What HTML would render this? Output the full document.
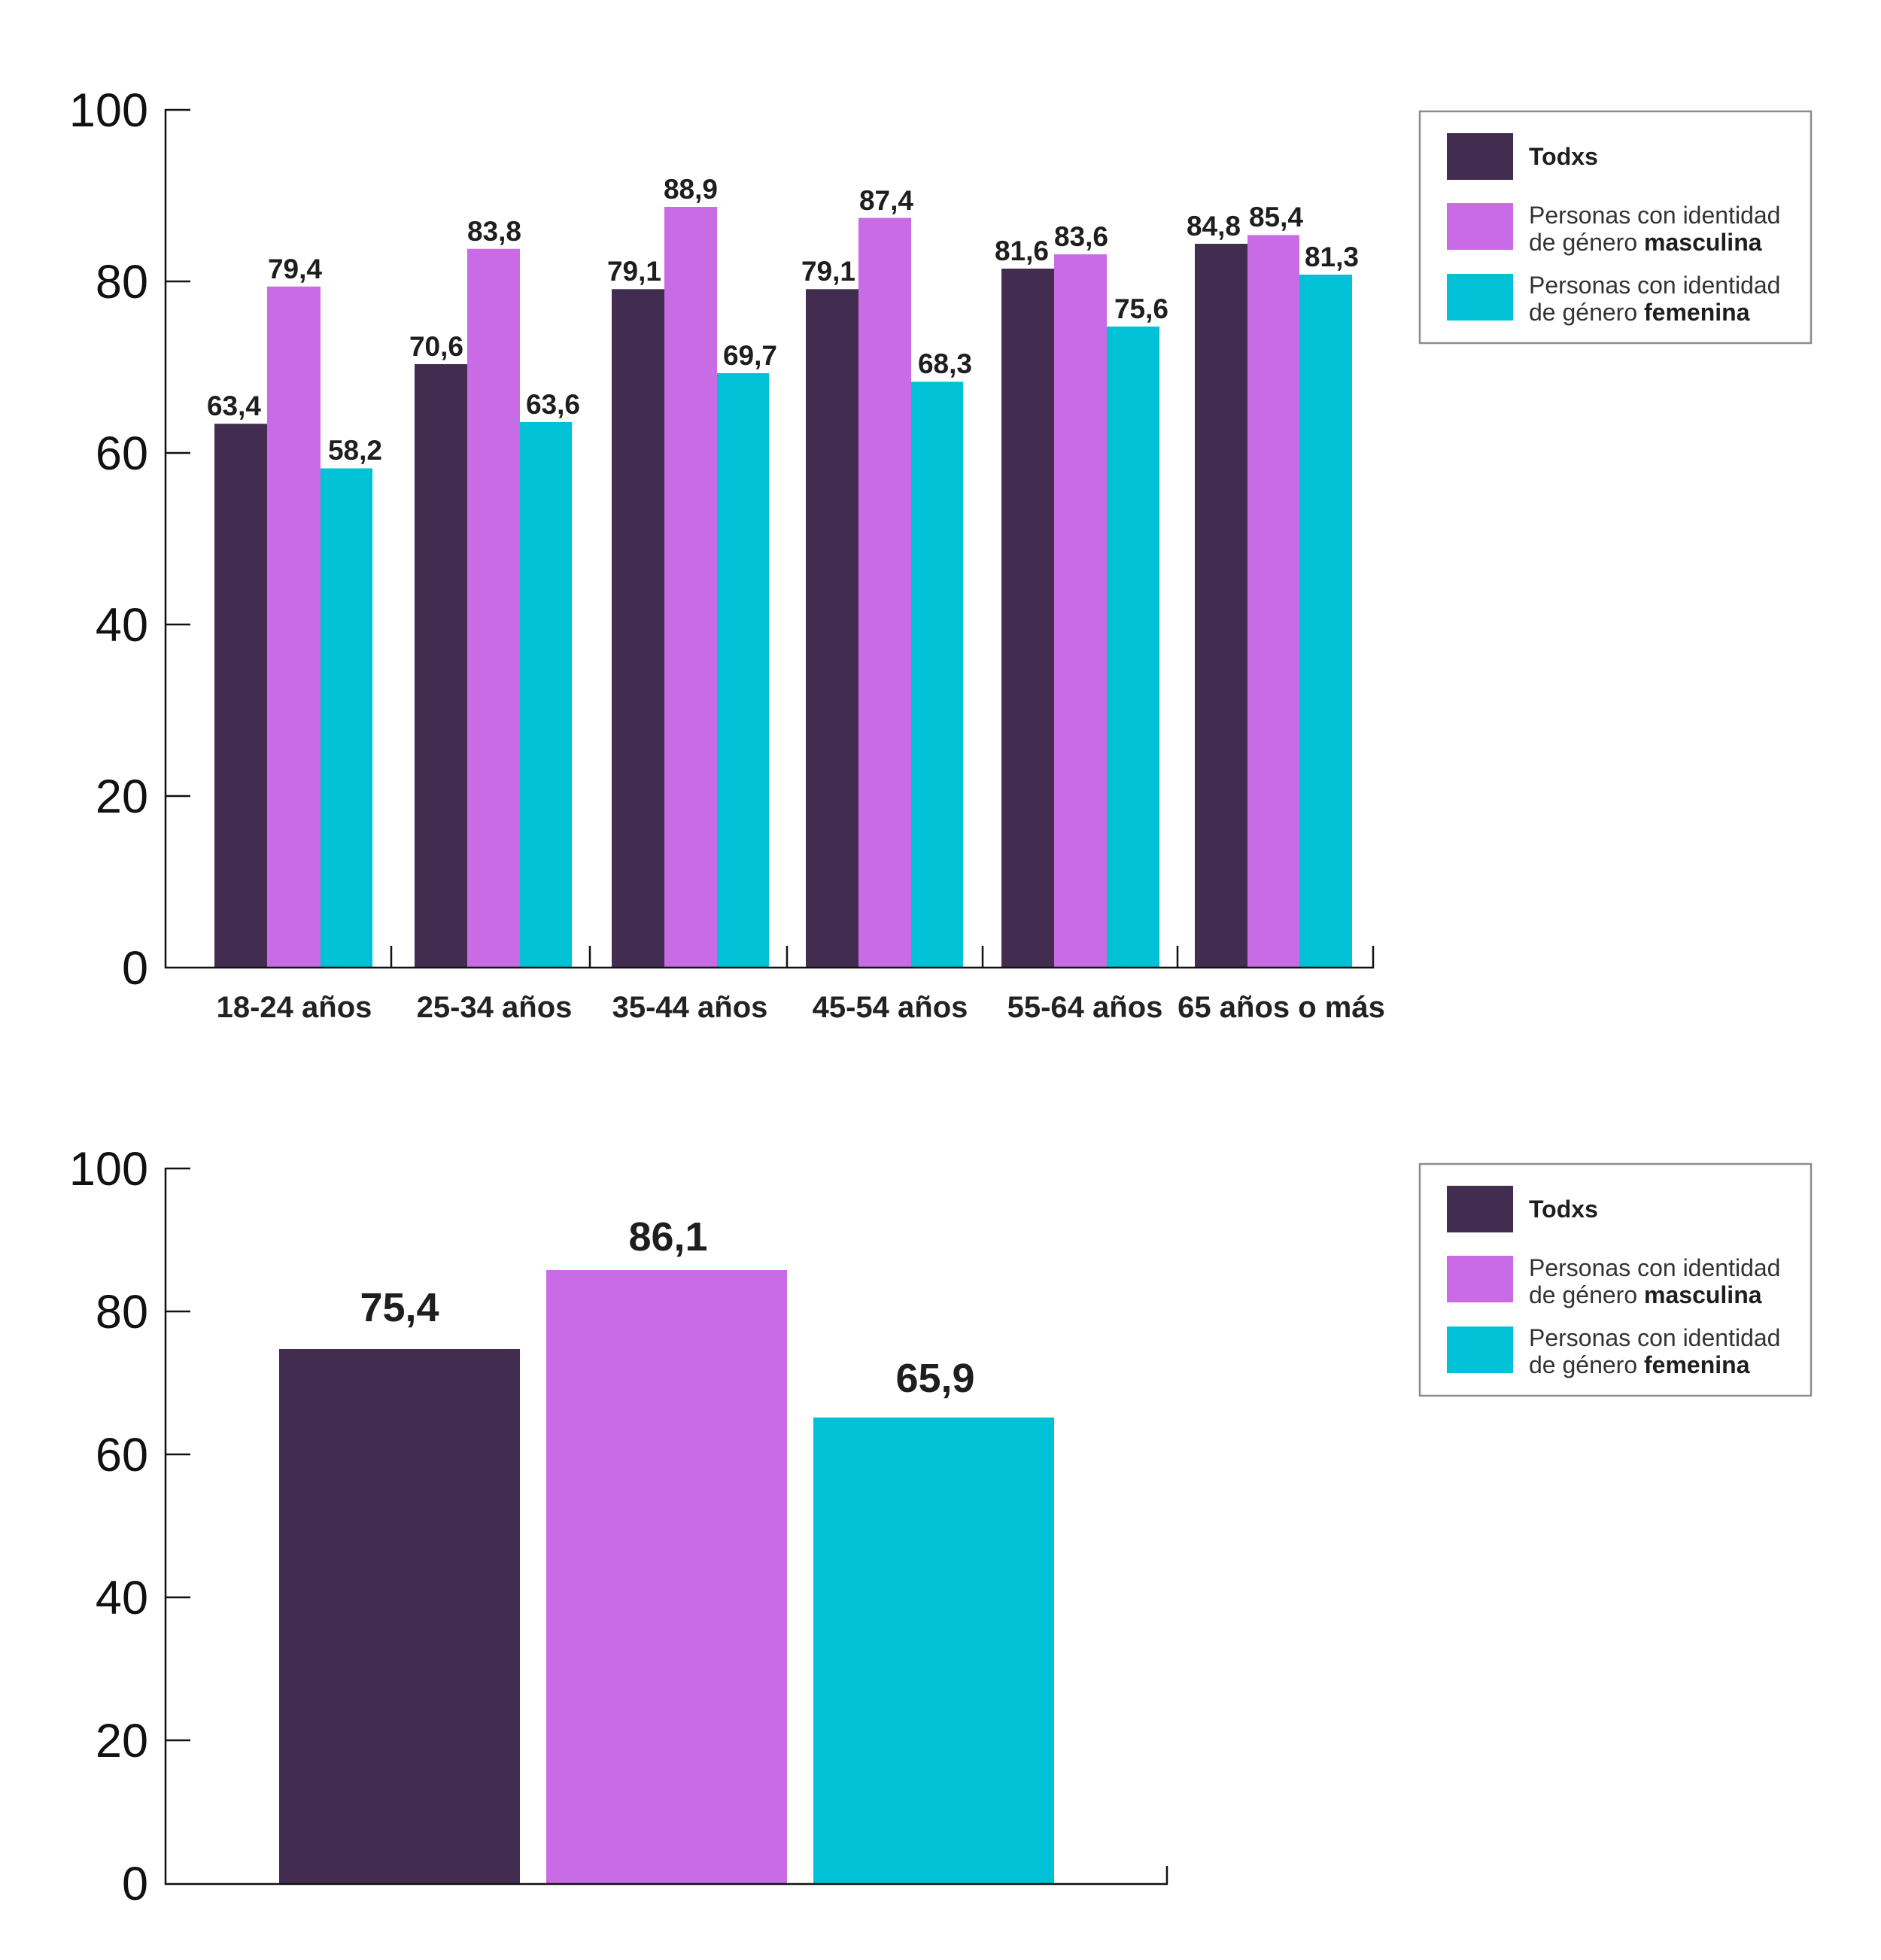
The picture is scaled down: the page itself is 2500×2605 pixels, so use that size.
<!DOCTYPE html>
<html>
<head>
<meta charset="utf-8">
<style>
html,body{margin:0;padding:0;background:#fff;}
svg{display:block;}
text{font-family:"Liberation Sans",Arial,sans-serif;}
.yl{font-size:63px;fill:#111;text-anchor:end;}
.vl{font-size:37px;font-weight:bold;fill:#1e1e1e;text-anchor:middle;}
.vl2{font-size:54px;font-weight:bold;fill:#1e1e1e;text-anchor:middle;}
.cl{font-size:40px;font-weight:bold;fill:#222;text-anchor:middle;}
.lg{font-size:32px;fill:#333;}
.lgb{font-size:32px;font-weight:bold;fill:#1e1e1e;}
</style>
</head>
<body>
<svg width="2500" height="2605" viewBox="0 0 2500 2605" xmlns="http://www.w3.org/2000/svg">
<rect width="2500" height="2605" fill="#fff"/>

<!-- ============ TOP CHART ============ -->
<g>
<rect x="285" y="563.2" width="70" height="722.8" fill="#422c50"/>
<rect x="355" y="380.8" width="71" height="905.2" fill="#c96be4"/>
<rect x="426" y="622.5" width="69" height="663.5" fill="#00c1d5"/>

<rect x="551" y="484" width="70" height="802" fill="#422c50"/>
<rect x="621" y="330.7" width="70" height="955.3" fill="#c96be4"/>
<rect x="691" y="561" width="69" height="725" fill="#00c1d5"/>

<rect x="813" y="384.3" width="70" height="901.7" fill="#422c50"/>
<rect x="883" y="275" width="70" height="1011" fill="#c96be4"/>
<rect x="953" y="496" width="69" height="790" fill="#00c1d5"/>

<rect x="1071" y="384.3" width="70" height="901.7" fill="#422c50"/>
<rect x="1141" y="289.6" width="70" height="996.4" fill="#c96be4"/>
<rect x="1211" y="507.4" width="69" height="778.6" fill="#00c1d5"/>

<rect x="1331" y="357" width="70" height="929" fill="#422c50"/>
<rect x="1401" y="338" width="70" height="948" fill="#c96be4"/>
<rect x="1471" y="434" width="70" height="852" fill="#00c1d5"/>

<rect x="1588" y="324" width="70" height="962" fill="#422c50"/>
<rect x="1658" y="312.4" width="69" height="973.6" fill="#c96be4"/>
<rect x="1727" y="365" width="70" height="921" fill="#00c1d5"/>
</g>

<g>
<text class="vl" x="311" y="552">63,4</text>
<text class="vl" x="392" y="370">79,4</text>
<text class="vl" x="472" y="611">58,2</text>

<text class="vl" x="580" y="473">70,6</text>
<text class="vl" x="657" y="320">83,8</text>
<text class="vl" x="735" y="550">63,6</text>

<text class="vl" x="843" y="373">79,1</text>
<text class="vl" x="918" y="264">88,9</text>
<text class="vl" x="997" y="485">69,7</text>

<text class="vl" x="1101" y="373">79,1</text>
<text class="vl" x="1178" y="279">87,4</text>
<text class="vl" x="1256" y="496">68,3</text>

<text class="vl" x="1358" y="346">81,6</text>
<text class="vl" x="1437" y="327">83,6</text>
<text class="vl" x="1517" y="423">75,6</text>

<text class="vl" x="1613" y="313">84,8</text>
<text class="vl" x="1696" y="301">85,4</text>
<text class="vl" x="1770" y="354">81,3</text>
</g>

<g stroke="#111" stroke-width="2.5" fill="none">
<line x1="220" y1="145" x2="220" y2="1287"/>
<line x1="219" y1="1286" x2="1826" y2="1286"/>
<line x1="220" y1="146" x2="253" y2="146"/>
<line x1="220" y1="374" x2="253" y2="374"/>
<line x1="220" y1="602" x2="253" y2="602"/>
<line x1="220" y1="830" x2="253" y2="830"/>
<line x1="220" y1="1058" x2="253" y2="1058"/>
<line x1="520" y1="1257" x2="520" y2="1286"/>
<line x1="784" y1="1257" x2="784" y2="1286"/>
<line x1="1046" y1="1257" x2="1046" y2="1286"/>
<line x1="1306" y1="1257" x2="1306" y2="1286"/>
<line x1="1565" y1="1257" x2="1565" y2="1286"/>
<line x1="1825" y1="1257" x2="1825" y2="1287"/>
</g>

<text class="yl" x="197" y="168">100</text>
<text class="yl" x="197" y="396">80</text>
<text class="yl" x="197" y="624">60</text>
<text class="yl" x="197" y="852">40</text>
<text class="yl" x="197" y="1080">20</text>
<text class="yl" x="197" y="1308">0</text>

<text class="cl" x="391" y="1352">18-24 años</text>
<text class="cl" x="657" y="1352">25-34 años</text>
<text class="cl" x="917" y="1352">35-44 años</text>
<text class="cl" x="1183" y="1352">45-54 años</text>
<text class="cl" x="1442" y="1352">55-64 años</text>
<text class="cl" x="1703" y="1352">65 años o más</text>

<rect x="1887" y="148" width="520" height="308" fill="#fff" stroke="#8c8c8c" stroke-width="2.5"/>
<rect x="1923" y="177" width="88" height="62" fill="#422c50"/>
<rect x="1923" y="270" width="88" height="62" fill="#c96be4"/>
<rect x="1923" y="364" width="88" height="62" fill="#00c1d5"/>
<text class="lgb" x="2032" y="219">Todxs</text>
<text class="lg" x="2032" y="297">Personas con identidad</text>
<text class="lg" x="2032" y="333">de género <tspan font-weight="bold" fill="#1e1e1e">masculina</tspan></text>
<text class="lg" x="2032" y="390">Personas con identidad</text>
<text class="lg" x="2032" y="426">de género <tspan font-weight="bold" fill="#1e1e1e">femenina</tspan></text>

<!-- ============ BOTTOM CHART ============ -->
<rect x="371" y="1793" width="320" height="711" fill="#422c50"/>
<rect x="726" y="1688" width="320" height="816" fill="#c96be4"/>
<rect x="1081" y="1884" width="320" height="620" fill="#00c1d5"/>

<text class="vl2" x="531" y="1756">75,4</text>
<text class="vl2" x="888" y="1662">86,1</text>
<text class="vl2" x="1243" y="1850">65,9</text>

<g stroke="#111" stroke-width="2.5" fill="none">
<line x1="220" y1="1552" x2="220" y2="2505"/>
<line x1="219" y1="2504" x2="1552" y2="2504"/>
<line x1="1551" y1="2480" x2="1551" y2="2505"/>
<line x1="220" y1="1553" x2="253" y2="1553"/>
<line x1="220" y1="1743" x2="253" y2="1743"/>
<line x1="220" y1="1933" x2="253" y2="1933"/>
<line x1="220" y1="2123" x2="253" y2="2123"/>
<line x1="220" y1="2313" x2="253" y2="2313"/>
</g>

<text class="yl" x="197" y="1575">100</text>
<text class="yl" x="197" y="1765">80</text>
<text class="yl" x="197" y="1955">60</text>
<text class="yl" x="197" y="2145">40</text>
<text class="yl" x="197" y="2335">20</text>
<text class="yl" x="197" y="2525">0</text>

<rect x="1887" y="1547" width="520" height="308" fill="#fff" stroke="#8c8c8c" stroke-width="2.5"/>
<rect x="1923" y="1576" width="88" height="62" fill="#422c50"/>
<rect x="1923" y="1669" width="88" height="62" fill="#c96be4"/>
<rect x="1923" y="1763" width="88" height="62" fill="#00c1d5"/>
<text class="lgb" x="2032" y="1618">Todxs</text>
<text class="lg" x="2032" y="1696">Personas con identidad</text>
<text class="lg" x="2032" y="1732">de género <tspan font-weight="bold" fill="#1e1e1e">masculina</tspan></text>
<text class="lg" x="2032" y="1789">Personas con identidad</text>
<text class="lg" x="2032" y="1825">de género <tspan font-weight="bold" fill="#1e1e1e">femenina</tspan></text>
</svg>
</body>
</html>
